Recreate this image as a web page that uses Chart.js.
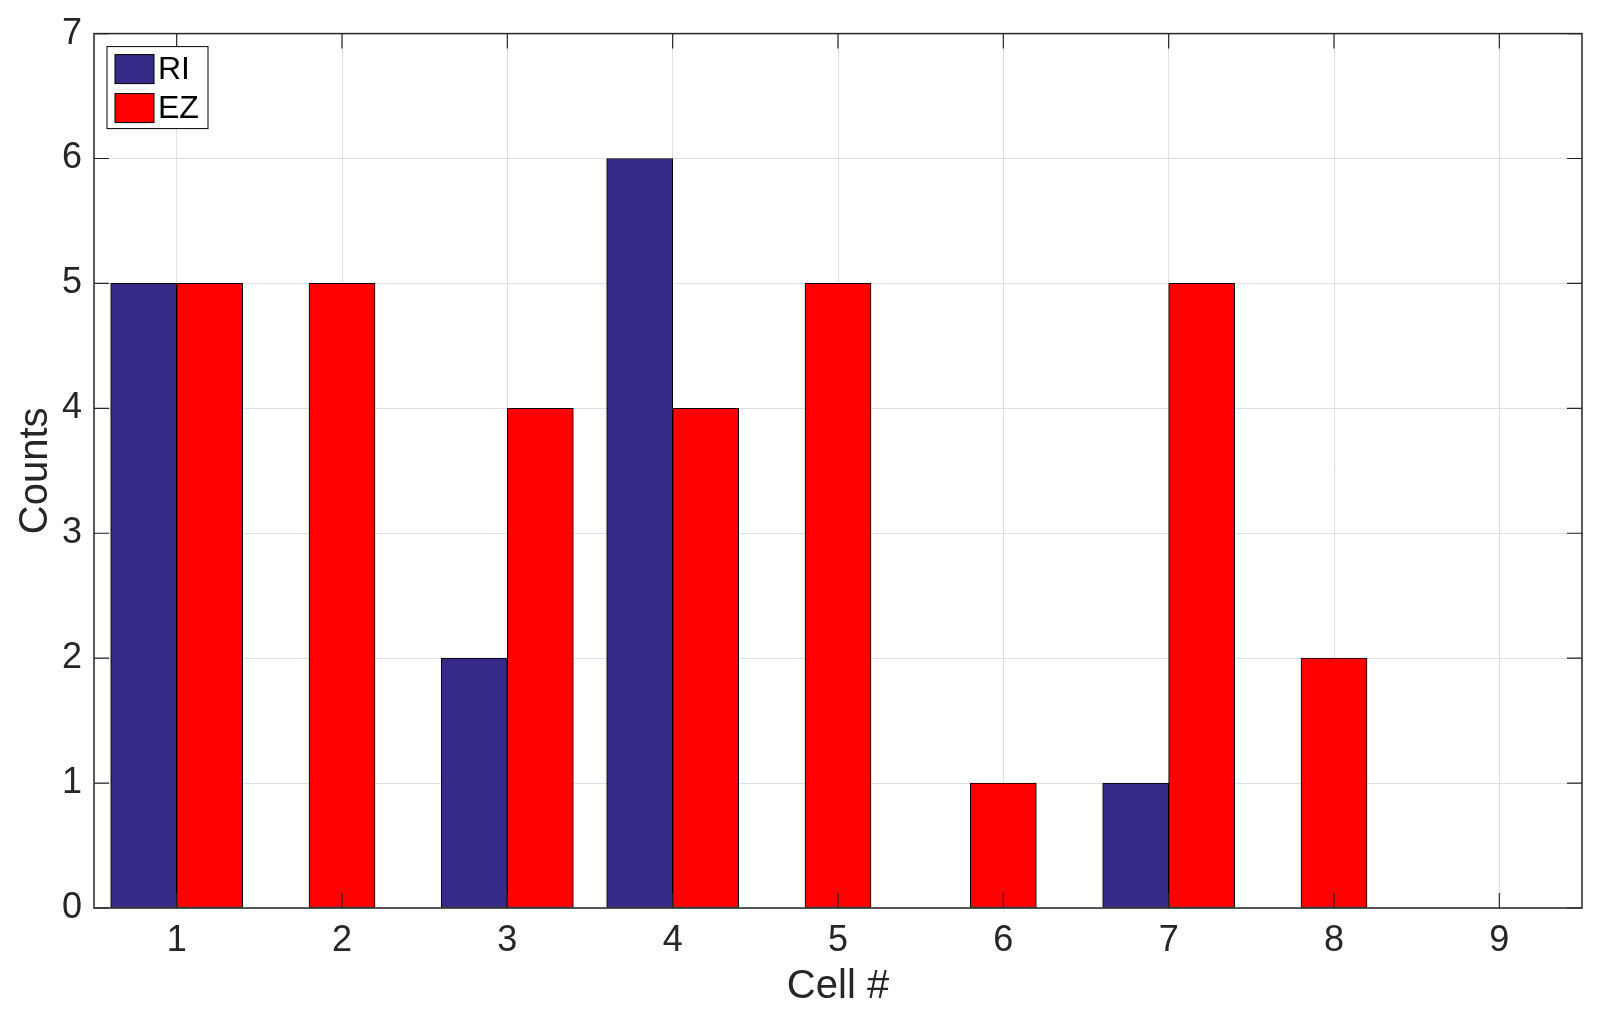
<!DOCTYPE html>
<html>
<head>
<meta charset="utf-8">
<script src="https://cdn.jsdelivr.net/npm/chart.js@4.4.1/dist/chart.umd.min.js"></script>
<style>
  html, body { margin: 0; padding: 0; background: #fff; }
  canvas { display: block; }
</style>
</head>
<body>
<canvas id="barChart" width="1609" height="1027"></canvas>
<script>
const cells = ['1', '2', '3', '4', '5', '6', '7', '8', '9'];
const riCounts = [5, 0, 2, 6, 0, 0, 1, 0, 0];
const ezCounts = [5, 5, 4, 4, 5, 1, 5, 2, 0];
const yTicks = [0, 1, 2, 3, 4, 5, 6, 7];

const axisColor = '#262626';
const fontFamily = '"Liberation Sans", Arial, Helvetica, sans-serif';

// empty bars are skipped so the remaining bar sits centred on its cell
const skipZero = arr => arr.map(v => (v === 0 ? null : v));

// box around the plot, inward tick marks and legend inside the axes
const matlabAxes = {
  id: 'matlabAxes',
  afterDraw(chart) {
    const ctx = chart.ctx;
    const area = chart.chartArea;
    const xs = chart.scales.x;
    const ys = chart.scales.y;
    const tick = 15;

    ctx.save();
    ctx.strokeStyle = axisColor;
    ctx.lineWidth = 1.5;
    ctx.strokeRect(area.left, area.top, area.right - area.left, area.bottom - area.top);

    ctx.lineWidth = 1.2;
    ctx.beginPath();
    xs.ticks.forEach((t, i) => {
      const px = xs.getPixelForTick(i);
      ctx.moveTo(px, area.bottom); ctx.lineTo(px, area.bottom - tick);
      ctx.moveTo(px, area.top); ctx.lineTo(px, area.top + tick);
    });
    ys.ticks.forEach((t, i) => {
      const py = ys.getPixelForTick(i);
      ctx.moveTo(area.left, py); ctx.lineTo(area.left + tick, py);
      ctx.moveTo(area.right, py); ctx.lineTo(area.right - tick, py);
    });
    ctx.stroke();

    // legend
    const lx = area.left + 13, ly = area.top + 13;
    ctx.fillStyle = '#fff';
    ctx.fillRect(lx, ly, 101, 82);
    ctx.strokeStyle = '#000';
    ctx.lineWidth = 1;
    ctx.strokeRect(lx, ly, 101, 82);
    ctx.font = '32px ' + fontFamily;
    ctx.textBaseline = 'middle';
    chart.data.datasets.forEach((ds, i) => {
      const sy = ly + 8 + i * 39;
      ctx.fillStyle = ds.backgroundColor;
      ctx.fillRect(lx + 8, sy, 39, 29);
      ctx.strokeRect(lx + 8, sy, 39, 29);
      ctx.fillStyle = '#000';
      ctx.fillText(ds.label, lx + 51, sy + 16);
    });
    ctx.restore();
  }
};

new Chart(document.getElementById('barChart').getContext('2d'), {
  type: 'bar',
  data: {
    labels: cells,
    datasets: [
      {
        label: 'RI',
        data: skipZero(riCounts),
        backgroundColor: '#352a87',
        borderColor: '#000',
        borderWidth: 1,
        borderSkipped: false
      },
      {
        label: 'EZ',
        data: skipZero(ezCounts),
        backgroundColor: '#ff0000',
        borderColor: '#000',
        borderWidth: 1,
        borderSkipped: false
      }
    ]
  },
  options: {
    responsive: false,
    animation: false,
    devicePixelRatio: 1,
    layout: { padding: { left: 0, top: 30, right: 27, bottom: 0 } },
    datasets: { bar: { barThickness: 66, skipNull: true } },
    plugins: {
      legend: { display: false },
      tooltip: { enabled: false }
    },
    scales: {
      x: {
        offset: true,
        grid: { color: '#dfdfdf', lineWidth: 1, drawTicks: false, offset: false },
        border: { display: false },
        ticks: {
          color: axisColor,
          padding: 11,
          font: { family: fontFamily, size: 36 }
        },
        title: {
          display: true,
          text: 'Cell #',
          color: axisColor,
          padding: { top: 0, bottom: 16 },
          font: { family: fontFamily, size: 40 }
        },
        afterFit(scale) { scale.height = 119; }
      },
      y: {
        min: 0,
        max: 7,
        afterBuildTicks(scale) { scale.ticks = yTicks.map(v => ({ value: v })); },
        grid: { color: '#dfdfdf', lineWidth: 1, drawTicks: false },
        border: { display: false },
        ticks: {
          color: axisColor,
          padding: 12,
          font: { family: fontFamily, size: 36 }
        },
        title: {
          display: true,
          text: 'Counts',
          color: axisColor,
          padding: { top: 12, bottom: 0 },
          font: { family: fontFamily, size: 40 }
        },
        afterFit(scale) { scale.width = 94; }
      }
    }
  },
  plugins: [matlabAxes]
});
</script>
</body>
</html>
